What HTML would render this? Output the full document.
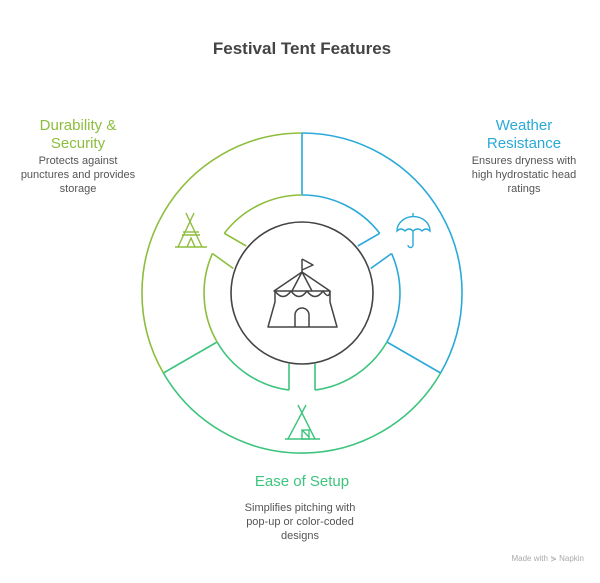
<!DOCTYPE html>
<html><head><meta charset="utf-8"><style>
body{margin:0;width:600px;height:578px;background:#fff;overflow:hidden;font-family:"Liberation Sans",sans-serif}
</style></head><body>
<svg width="600" height="578" viewBox="0 0 600 578" xmlns="http://www.w3.org/2000/svg" font-family="Liberation Sans, sans-serif">
<text x="302" y="54" text-anchor="middle" font-size="17" font-weight="bold" fill="#444">Festival Tent Features</text>

<g fill="none" stroke-width="1.6">
<!-- outer arcs: center 302,293 R160 -->
<path d="M302 133 A160 160 0 0 0 163.4 373" stroke="#8dbd3c"/>
<path d="M163.4 373 A160 160 0 0 0 440.6 373" stroke="#3dc47e"/>
<path d="M440.6 373 A160 160 0 0 0 302 133" stroke="#2aa9d8"/>
<!-- radial lines -->
<line x1="302" y1="133" x2="302" y2="195" stroke="#2aa9d8"/>
<line x1="163.4" y1="373" x2="217.1" y2="342" stroke="#3dc47e"/>
<line x1="440.6" y1="373" x2="386.9" y2="342" stroke="#2aa9d8"/>
<!-- r=98 arcs -->
<path d="M302 195 A98 98 0 0 1 379.7 233.3" stroke="#2aa9d8"/>
<path d="M391.6 253.5 A98 98 0 0 1 386.9 342" stroke="#2aa9d8"/>
<path d="M386.9 342 A98 98 0 0 1 315 390.1" stroke="#3dc47e"/>
<path d="M289 390.1 A98 98 0 0 1 217.1 342" stroke="#3dc47e"/>
<path d="M217.1 342 A98 98 0 0 1 212.4 253.5" stroke="#8dbd3c"/>
<path d="M224.3 233.3 A98 98 0 0 1 302 195" stroke="#8dbd3c"/>
<!-- gap lines (30°) -->
<line x1="379.7" y1="233.3" x2="357.8" y2="246" stroke="#2aa9d8"/>
<line x1="391.6" y1="253.5" x2="370.7" y2="268.5" stroke="#2aa9d8"/>
<!-- gap 150° -->
<line x1="224.3" y1="233.3" x2="246.2" y2="246" stroke="#8dbd3c"/>
<line x1="212.4" y1="253.5" x2="233.3" y2="268.5" stroke="#8dbd3c"/>
<!-- gap 270° -->
<line x1="289" y1="390.1" x2="289" y2="363.8" stroke="#3dc47e"/>
<line x1="315" y1="390.1" x2="315" y2="363.8" stroke="#3dc47e"/>
<!-- inner circle -->
<circle cx="302" cy="293" r="71" stroke="#444"/>
</g>

<!-- center circus tent -->
<g fill="none" stroke="#444" stroke-width="1.5" stroke-linejoin="round">
<line x1="302" y1="272" x2="302" y2="259"/>
<path d="M302 259 L313 265 L302 270"/>
<path d="M302 272 L274 291 L330 291 Z"/>
<line x1="302" y1="272" x2="292" y2="291"/><line x1="302" y1="272" x2="312" y2="291"/>
<path d="M275 291 Q283 302 291 291 Q299 302 307 291 Q315 302 323 291 Q329 300 330 291"/>
<path d="M275 291 L275 302 L268 327 L337 327 L330 302 L330 291"/>
<path d="M295 327 L295 315 A7 7 0 0 1 309 315 L309 327"/>
</g>

<!-- left tepee -->
<g fill="none" stroke="#8dbd3c" stroke-width="1.4">
<path d="M186 213 L202 247 M194 213 L178 247 M175 247 L207 247"/>
<line x1="183" y1="232" x2="199" y2="232"/><line x1="182" y1="235" x2="200" y2="235"/>
<path d="M187 247 L191 238 L195 247"/>
</g>
<!-- umbrella -->
<g fill="none" stroke="#2aa9d8" stroke-width="1.4">
<line x1="413" y1="213" x2="413" y2="217"/>
<path d="M397 231 A16 14 0 0 1 430 231 Q426 227 422 231 Q418 227 413 231 Q409 227 405 231 Q401 227 397 231Z"/>
<path d="M413 231 L413 245 A2.5 2.5 0 0 1 408 245"/>
</g>
<!-- bottom tepee -->
<g fill="none" stroke="#3dc47e" stroke-width="1.4">
<path d="M298 405 L315 439 M306 405 L288 439 M285 439 L320 439"/>
<rect x="302" y="430" width="7" height="9"/><line x1="302" y1="430" x2="309" y2="437"/>
</g>

<g font-size="15" text-anchor="middle">
<text x="78" y="130" fill="#8dbd3c">Durability &amp;</text>
<text x="78" y="148" fill="#8dbd3c">Security</text>
<text x="524" y="130" fill="#2aa9d8">Weather</text>
<text x="524" y="148" fill="#2aa9d8">Resistance</text>
<text x="302" y="486" fill="#3dc47e">Ease of Setup</text>
</g>
<g font-size="11" text-anchor="middle" fill="#555">
<text x="78" y="164">Protects against</text>
<text x="78" y="178">punctures and provides</text>
<text x="78" y="192">storage</text>
<text x="524" y="164">Ensures dryness with</text>
<text x="524" y="178">high hydrostatic head</text>
<text x="524" y="192">ratings</text>
<text x="300" y="511">Simplifies pitching with</text>
<text x="300" y="525">pop-up or color-coded</text>
<text x="300" y="539">designs</text>
</g>
<text x="584" y="561" text-anchor="end" font-size="8" fill="#aaa">Made with ⋟ Napkin</text>
</svg>
</body></html>
